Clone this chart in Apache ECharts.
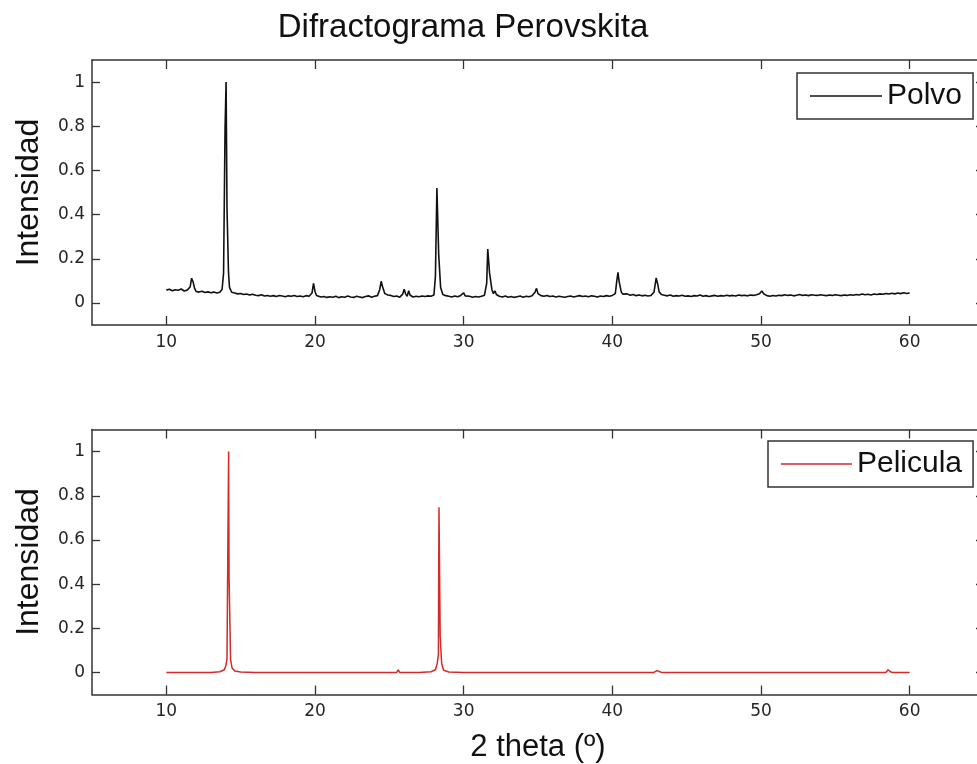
<!DOCTYPE html>
<html>
<head>
<meta charset="utf-8">
<title>Difractograma Perovskita</title>
<script src="https://cdn.jsdelivr.net/npm/echarts@6/dist/echarts.min.js"></script>
<style>
  html, body { margin: 0; padding: 0; background: #ffffff; }
  #chart { width: 977px; height: 764px; }
</style>
</head>
<body>
<div id="chart"></div>
<script>
// Tick positions shared by both panels
const thetaTicks = [10, 20, 30, 40, 50, 60];
const intensityTicks = [0, 0.2, 0.4, 0.6, 0.8, 1];

// Powder sample: [2θ (deg), normalised intensity]
const polvo = [
  [10.0,0.058],[10.2,0.062],[10.4,0.055],[10.6,0.060],[10.8,0.057],[11.0,0.063],[11.2,0.054],[11.4,0.058],
  [11.6,0.072],[11.7,0.112],[11.8,0.095],[11.9,0.066],[12.0,0.052],[12.2,0.049],[12.4,0.053],[12.6,0.047],
  [12.8,0.050],[13.0,0.046],[13.2,0.049],[13.4,0.045],[13.6,0.048],[13.75,0.062],[13.85,0.135],[13.95,0.79],
  [14.0,0.79],[14.02,1.0],[14.05,1.0],[14.08,0.43],[14.12,0.43],[14.18,0.14],[14.25,0.07],[14.4,0.048],
  [14.6,0.045],[14.8,0.041],[15.0,0.043],[15.2,0.038],[15.4,0.040],[15.6,0.036],[15.8,0.039],[16.0,0.035],
  [16.2,0.033],[16.4,0.037],[16.6,0.031],[16.8,0.034],[17.0,0.030],[17.2,0.033],[17.4,0.029],[17.6,0.034],
  [17.8,0.031],[18.0,0.028],[18.2,0.032],[18.4,0.030],[18.6,0.034],[18.8,0.029],[19.0,0.031],[19.2,0.028],
  [19.4,0.033],[19.6,0.030],[19.8,0.045],[19.9,0.088],[20.0,0.052],[20.1,0.034],[20.2,0.030],[20.4,0.027],
  [20.6,0.029],[20.8,0.025],[21.0,0.028],[21.2,0.026],[21.4,0.030],[21.6,0.024],[21.8,0.028],[22.0,0.026],
  [22.2,0.031],[22.4,0.027],[22.6,0.025],[22.8,0.030],[23.0,0.027],[23.2,0.024],[23.4,0.029],[23.6,0.032],
  [23.8,0.026],[24.0,0.030],[24.2,0.033],[24.35,0.060],[24.45,0.098],[24.55,0.072],[24.7,0.042],[24.9,0.036],
  [25.1,0.034],[25.3,0.029],[25.5,0.031],[25.7,0.026],[25.9,0.040],[26.0,0.062],[26.1,0.040],[26.2,0.030],
  [26.3,0.055],[26.4,0.035],[26.6,0.027],[26.8,0.030],[27.0,0.028],[27.2,0.031],[27.4,0.029],[27.6,0.032],
  [27.8,0.030],[28.0,0.036],[28.1,0.12],[28.2,0.52],[28.27,0.52],[28.32,0.22],[28.38,0.22],[28.45,0.07],
  [28.6,0.038],[28.8,0.033],[29.0,0.030],[29.2,0.027],[29.4,0.031],[29.6,0.028],[29.8,0.034],[30.0,0.045],
  [30.1,0.032],[30.2,0.027],[30.4,0.030],[30.6,0.026],[30.8,0.029],[31.0,0.027],[31.2,0.030],[31.4,0.035],
  [31.55,0.09],[31.62,0.244],[31.68,0.24],[31.74,0.136],[31.8,0.13],[31.9,0.06],[32.0,0.042],[32.1,0.055],
  [32.2,0.038],[32.4,0.030],[32.6,0.027],[32.8,0.031],[33.0,0.026],[33.2,0.029],[33.4,0.025],[33.6,0.028],
  [33.8,0.031],[34.0,0.026],[34.2,0.030],[34.4,0.028],[34.6,0.032],[34.8,0.048],[34.9,0.066],[35.0,0.042],
  [35.2,0.033],[35.4,0.030],[35.6,0.034],[35.8,0.029],[36.0,0.031],[36.2,0.027],[36.4,0.030],[36.6,0.028],
  [36.8,0.026],[37.0,0.029],[37.2,0.031],[37.4,0.027],[37.6,0.030],[37.8,0.033],[38.0,0.029],[38.2,0.031],
  [38.4,0.028],[38.6,0.032],[38.8,0.030],[39.0,0.027],[39.2,0.031],[39.4,0.029],[39.6,0.033],[39.8,0.030],
  [40.0,0.034],[40.2,0.042],[40.3,0.10],[40.38,0.138],[40.45,0.10],[40.52,0.095],[40.6,0.05],[40.7,0.040],
  [40.8,0.037],[41.0,0.041],[41.2,0.035],[41.4,0.038],[41.6,0.033],[41.8,0.036],[42.0,0.032],[42.2,0.035],
  [42.4,0.031],[42.6,0.034],[42.8,0.048],[42.95,0.113],[43.05,0.085],[43.15,0.05],[43.3,0.038],[43.5,0.035],
  [43.7,0.032],[43.9,0.036],[44.1,0.030],[44.3,0.033],[44.5,0.031],[44.7,0.035],[44.9,0.030],[45.1,0.032],
  [45.3,0.029],[45.5,0.033],[45.7,0.031],[45.9,0.036],[46.1,0.030],[46.3,0.033],[46.5,0.029],[46.7,0.032],
  [46.9,0.034],[47.1,0.030],[47.3,0.033],[47.5,0.031],[47.7,0.035],[47.9,0.032],[48.1,0.034],[48.3,0.031],
  [48.5,0.036],[48.7,0.033],[48.9,0.035],[49.1,0.032],[49.3,0.036],[49.5,0.034],[49.7,0.037],[49.9,0.042],
  [50.05,0.054],[50.2,0.040],[50.4,0.033],[50.6,0.030],[50.8,0.034],[51.0,0.031],[51.2,0.035],[51.4,0.033],
  [51.6,0.037],[51.8,0.034],[52.0,0.036],[52.2,0.032],[52.4,0.035],[52.6,0.038],[52.8,0.034],[53.0,0.036],
  [53.2,0.033],[53.4,0.037],[53.6,0.035],[53.8,0.034],[54.0,0.037],[54.2,0.035],[54.4,0.033],[54.6,0.036],
  [54.8,0.034],[55.0,0.037],[55.2,0.035],[55.4,0.033],[55.6,0.036],[55.8,0.034],[56.0,0.037],[56.2,0.035],
  [56.4,0.038],[56.6,0.036],[56.8,0.040],[57.0,0.037],[57.2,0.039],[57.4,0.036],[57.6,0.040],[57.8,0.038],
  [58.0,0.041],[58.2,0.039],[58.4,0.043],[58.6,0.040],[58.8,0.044],[59.0,0.041],[59.2,0.045],[59.4,0.042],
  [59.6,0.046],[59.8,0.043],[60.0,0.045]
];

// Thin film sample: [2θ (deg), normalised intensity]
const pelicula = [
  [10.0,0],[11.0,0],[12.0,0],[13.0,0],[13.6,0.003],[13.9,0.012],[14.0,0.03],[14.08,0.06],
  [14.12,0.41],[14.16,0.41],[14.19,1.0],[14.22,0.43],[14.26,0.43],[14.32,0.06],[14.42,0.02],[14.6,0.006],
  [15.0,0.002],[16.0,0],[20.0,0],[25.5,0],[25.6,0.012],[25.7,0],[27.0,0],[27.8,0.003],
  [28.1,0.012],[28.22,0.04],[28.3,0.08],[28.34,0.748],[28.38,0.748],[28.42,0.165],[28.46,0.165],[28.52,0.04],
  [28.65,0.01],[29.0,0.002],[30.0,0],[42.8,0],[43.0,0.008],[43.15,0.004],[43.3,0],[58.4,0],
  [58.55,0.012],[58.7,0.003],[58.85,0],[60.0,0]
];

const FONT = "'Liberation Sans', Arial, Helvetica, sans-serif";
const TICK_FONT = "'DejaVu Sans', 'Liberation Sans', sans-serif";
const AXIS_COLOR = '#333333';

function thetaAxis(gridIndex, position, withLabels, name) {
  return {
    type: 'value', gridIndex: gridIndex, position: position,
    min: 5, max: 65,
    name: name || '', nameLocation: 'middle', nameGap: 37,
    nameTextStyle: { fontFamily: FONT, fontSize: 31, color: '#111' },
    axisLine: { show: true, onZero: false, lineStyle: { color: AXIS_COLOR, width: 1.5 } },
    axisTick: { show: true, inside: true, length: 9, customValues: thetaTicks,
                lineStyle: { color: AXIS_COLOR, width: 1.3 } },
    axisLabel: { show: withLabels, customValues: thetaTicks, margin: 9,
                 fontFamily: TICK_FONT, fontSize: 17, color: '#262626' },
    splitLine: { show: false }
  };
}

function intensityAxis(gridIndex, position, withLabels, name) {
  return {
    type: 'value', gridIndex: gridIndex, position: position,
    min: -0.1, max: 1.1,
    name: name || '', nameLocation: 'middle', nameGap: 47, nameRotate: 90,
    nameTextStyle: { fontFamily: FONT, fontSize: 32, color: '#111' },
    axisLine: { show: true, onZero: false, lineStyle: { color: AXIS_COLOR, width: 1.5 } },
    axisTick: { show: true, inside: true, length: 8, customValues: intensityTicks,
                lineStyle: { color: AXIS_COLOR, width: 1.3 } },
    axisLabel: { show: withLabels, customValues: intensityTicks, margin: 7,
                 fontFamily: TICK_FONT, fontSize: 17, color: '#262626' },
    splitLine: { show: false }
  };
}

function legendBox(label, left, top, width) {
  return {
    data: [label], left: left, top: top, orient: 'horizontal',
    icon: 'rect', itemWidth: width, itemHeight: 1.5,
    padding: [8, 11, 8, 13],
    borderColor: AXIS_COLOR, borderWidth: 1.5, backgroundColor: '#ffffff',
    textStyle: { fontFamily: FONT, fontSize: 30, color: '#111' },
    selectedMode: false
  };
}

const chart = echarts.init(document.getElementById('chart'), null, { renderer: 'canvas' });

chart.setOption({
  animation: false,
  backgroundColor: '#ffffff',
  graphic: [{
    type: 'text', x: 463, y: 28,
    style: { text: 'Difractograma Perovskita', fill: '#111', font: "33px " + FONT,
             textAlign: 'center', textVerticalAlign: 'middle' }
  }],
  // The plot boxes run slightly past the right edge of the page
  grid: [
    { left: 92, top: 60, width: 892, height: 265, outerBoundsMode: 'none', containLabel: false },
    { left: 92, top: 429.5, width: 892, height: 265, outerBoundsMode: 'none', containLabel: false }
  ],
  xAxis: [
    thetaAxis(0, 'bottom', true),
    thetaAxis(0, 'top', false),
    thetaAxis(1, 'bottom', true, '2 theta (º)'),
    thetaAxis(1, 'top', false)
  ],
  yAxis: [
    intensityAxis(0, 'left', true, 'Intensidad'),
    intensityAxis(0, 'right', false),
    intensityAxis(1, 'left', true, 'Intensidad'),
    intensityAxis(1, 'right', false)
  ],
  legend: [
    legendBox('Polvo', 797, 73, 72),
    legendBox('Pelicula', 768, 441, 71)
  ],
  series: [
    {
      name: 'Polvo', type: 'line', xAxisIndex: 0, yAxisIndex: 0,
      data: polvo, showSymbol: false, symbol: 'none',
      lineStyle: { color: '#111111', width: 1.6 }, itemStyle: { color: '#111111' }
    },
    {
      name: 'Pelicula', type: 'line', xAxisIndex: 2, yAxisIndex: 2,
      data: pelicula, showSymbol: false, symbol: 'none',
      lineStyle: { color: '#d42a2a', width: 1.5 }, itemStyle: { color: '#d42a2a' }
    }
  ]
});
</script>
</body>
</html>
